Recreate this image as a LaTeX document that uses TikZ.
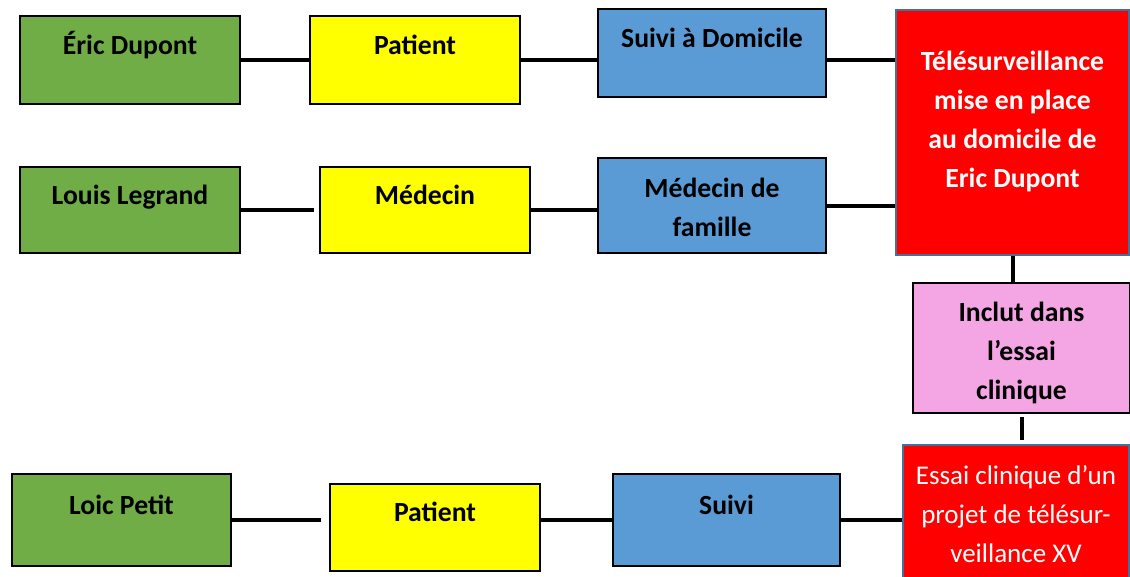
\documentclass[tikz,border=0pt]{standalone}
\usepackage{fontspec}
\setmainfont{Carlito}
\usetikzlibrary{positioning, calc}

\definecolor{boxgreen}{HTML}{70AD47}
\definecolor{boxyellow}{HTML}{FFFF00}
\definecolor{boxblue}{HTML}{5B9BD5}
\definecolor{boxred}{HTML}{FF0000}
\definecolor{boxpink}{HTML}{F4A6E4}
\definecolor{redborder}{HTML}{41719C}

\begin{document}
\begin{tikzpicture}[x=1pt, y=-1pt,
  box/.style={draw, line width=2.5pt, inner sep=0pt, align=center, font=\fontsize{27.7}{39}\selectfont\bfseries},
  toptext/.style={text height=20pt, text depth=32pt},
  redbox/.style={box, fill=boxred, draw=redborder, line width=1.5pt, text=white},
  link/.style={line width=4pt}]
\useasboundingbox (0,0) rectangle (1130,576);
\node[box, toptext, fill=boxgreen, minimum width=220, minimum height=88] (eric) at (130,60) {Éric Dupont};
\node[box, toptext, fill=boxyellow, minimum width=210, minimum height=88] (patient1) at (415,60) {Patient};
\node[box, toptext, fill=boxblue, minimum width=228, minimum height=88] (suivi1) at (712,53) {Suivi à Domicile};
\node[redbox, minimum width=233, minimum height=245, text height=136pt, text depth=27pt] (tele) at (1012.5,132.5) {Télésurveillance\\mise en place\\au domicile de\\Eric Dupont};
\node[box, toptext, fill=boxgreen, minimum width=220, minimum height=86] (louis) at (130,210) {Louis Legrand};
\node[box, toptext, fill=boxyellow, minimum width=210, minimum height=86] (medecin) at (425,210) {Médecin};
\node[box, fill=boxblue, minimum width=228, minimum height=95, text height=67pt, text depth=6pt] (famille) at (712,205.5) {Médecin de\\famille};
\node[box, fill=boxpink, minimum width=217, minimum height=130, text height=108pt, text depth=6pt] (inclut) at (1021.5,348) {Inclut dans\\l’essai\\clinique};
\node[redbox, font=\fontsize{27}{39}\selectfont, minimum width=226, minimum height=138] (essai) at (1016,514) {Essai clinique d’un\\projet de télésur-\\veillance XV};
\node[box, toptext, fill=boxgreen, minimum width=219, minimum height=92] (loic) at (121.5,520) {Loic Petit};
\node[box, toptext, fill=boxyellow, minimum width=210, minimum height=87] (patient3) at (435,527.5) {Patient};
\node[box, toptext, fill=boxblue, minimum width=227, minimum height=92] (suivi3) at (726.5,520) {Suivi};
\draw[link] (eric) -- (patient1);
\draw[link] (patient1.east) -- (patient1.east -| suivi1.west);
\draw[link] (suivi1.east |- patient1.east) -- (patient1.east -| tele.west);
\draw[link, shorten >=5pt] (louis) -- (medecin);
\draw[link] (medecin.east) -- (medecin.east -| famille.west);
\draw[link] (famille.east) -- (famille.east -| tele.west);
\draw[link] (tele.south) -- (tele.south |- inclut.north);
\draw[link, shorten <=3pt, shorten >=4pt] (inclut.south) -- (inclut.south |- essai.north);
\draw[link, shorten >=8pt] (loic.east) -- (loic.east -| patient3.west);
\draw[link] (suivi3.west) -- (suivi3.west -| patient3.east);
\draw[link] (suivi3.east) -- (suivi3.east -| essai.west);
\end{tikzpicture}
\end{document}
